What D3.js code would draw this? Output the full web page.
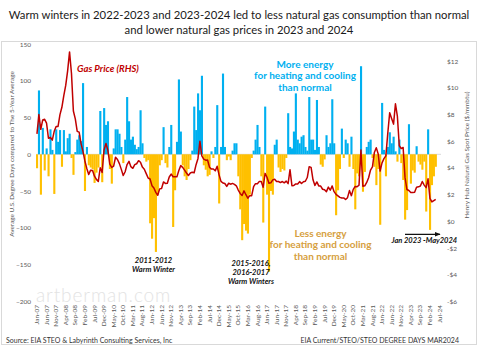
<!DOCTYPE html>
<html>
<head>
<meta charset="utf-8">
<script src="https://cdn.jsdelivr.net/npm/d3@7"></script>
<style>
body { margin: 0; background: #fff; }
svg { display: block; font-family: Lato, "Open Sans", sans-serif; }
</style>
</head>
<body>
<svg id="chart"></svg>
<script>
// Monthly categories: Jan-07 .. Jul-24 (data runs to May-24)
var firstMonth = new Date(2007, 0, 1);
var axisEndMonth = new Date(2024, 7, 1);

// HDD+CDD deviation from the 5-year average (degree days), one row per year
var degreeDays = [
    -19, 87, -55, 36, -22, 8, -30, 34, 6, -54, 34, 17,          // 2007
    33, -17, 33, 4, 22, 28, -5, -28, 3, 20, 26, 18,             // 2008
    97, -50, 10, -15, -18, -20, -39, -25, -18, 59, -38, 63,     // 2009
    40, 45, -20, -40, 8, 34, 34, 28, 10, -12, 20, 78,           // 2010
    45, 20, 24, 13, 7, 10, 60, 15, -5, -10, -8, -94,            // 2011
    -115, -87, -133, -55, -15, -8, 37, -12, -18, 10, 40, -99,   // 2012
    -49, 17, 102, 31, -15, -30, -35, -20, -8, 5, 65, 33,        // 2013
    83, 60, 107, -15, -21, -30, -28, 4, -5, 10, 67, -67,        // 2014
    10, 110, 10, -8, -3, -8, 5, 15, 15, -30, -75, -117,         // 2015
    -95, -104, -108, -55, -5, 5, 20, 40, 10, -30, -93, 65,      // 2016
    -55, -160, -50, -55, 13, 20, -18, -24, -20, -22, -5, 56,    // 2017
    10, 8, 31, 83, 20, 15, 24, 26, 10, 5, 78, 20,               // 2018
    20, 6, 74, 10, -14, -17, -7, 26, 10, 15, 75, 15,            // 2019
    -83, -49, -20, 35, -5, 20, 15, -17, 24, -20, -75, -26,      // 2020
    -30, 120, -51, -24, 10, 17, 20, -5, -17, -42, -20, -96,     // 2021
    70, 6, -30, 10, 30, 15, 24, 4, -10, 20, -12, -35,           // 2022
    -89, -76, 41, -40, -22, -25, 11, -10, -14, -21, -10, -78,   // 2023
    34, -103, -42, -30, -17                                     // 2024
];

// Henry Hub spot price, $/mmbtu
var gasPrice = [
    6.55, 8.00, 6.89, 7.59, 7.64, 7.35, 6.22, 6.29, 6.08, 6.74, 7.10, 7.11,   // 2007
    7.99, 8.54, 9.41, 10.18, 11.27, 12.69, 11.09, 8.26, 7.67, 6.74, 6.68, 5.82, // 2008
    5.24, 4.52, 3.96, 3.50, 3.83, 3.80, 3.38, 3.14, 2.99, 4.01, 3.66, 5.35,   // 2009
    5.83, 5.32, 4.29, 4.03, 4.14, 4.80, 4.63, 4.32, 3.89, 3.43, 3.71, 4.25,   // 2010
    4.49, 4.09, 3.97, 4.24, 4.31, 4.54, 4.42, 4.06, 3.90, 3.57, 3.24, 3.17,   // 2011
    2.67, 2.50, 2.17, 1.95, 2.43, 2.46, 2.95, 2.84, 2.85, 3.32, 3.54, 3.34,   // 2012
    3.33, 3.33, 3.81, 4.17, 4.04, 3.83, 3.62, 3.43, 3.62, 3.68, 3.64, 4.24,   // 2013
    4.71, 6.00, 4.90, 4.66, 4.58, 4.59, 4.05, 3.91, 3.92, 3.78, 4.12, 3.48,   // 2014
    2.99, 2.87, 2.83, 2.61, 2.85, 2.78, 2.84, 2.77, 2.66, 2.34, 2.09, 1.93,   // 2015
    2.28, 1.99, 1.73, 1.92, 1.92, 2.59, 2.82, 2.82, 2.99, 2.98, 2.55, 3.59,   // 2016
    3.30, 2.85, 2.88, 3.10, 3.15, 2.98, 2.98, 2.90, 2.98, 2.88, 3.01, 2.82,   // 2017
    3.87, 2.67, 2.69, 2.80, 2.80, 2.97, 2.83, 2.96, 3.00, 3.28, 4.09, 4.04,   // 2018
    3.11, 2.69, 2.95, 2.65, 2.64, 2.40, 2.37, 2.22, 2.56, 2.33, 2.65, 2.22,   // 2019
    2.02, 1.91, 1.79, 1.74, 1.75, 1.63, 1.77, 2.30, 1.92, 2.39, 2.61, 2.59,   // 2020
    2.71, 5.35, 2.62, 2.66, 2.91, 3.26, 3.84, 4.07, 5.16, 5.51, 5.05, 3.76,   // 2021
    4.38, 4.69, 4.90, 6.60, 8.14, 7.70, 7.28, 8.80, 7.88, 5.66, 5.45, 5.53,   // 2022
    3.27, 2.38, 2.31, 2.16, 2.15, 2.18, 2.55, 2.58, 2.64, 2.98, 2.71, 2.52,   // 2023
    3.18, 1.72, 1.45, 1.55, 1.65                                              // 2024
];

var tickLabels = ["Jan-07", "Jun-07", "Nov-07", "Apr-08", "Sep-08", "Feb-09", "Jul-09", "Dec-09",
    "May-10", "Oct-10", "Mar-11", "Aug-11", "Jan-12", "Jun-12", "Nov-12", "Apr-13", "Sep-13",
    "Feb-14", "Jul-14", "Dec-14", "May-15", "Oct-15", "Mar-16", "Aug-16", "Jan-17", "Jun-17",
    "Nov-17", "Apr-18", "Sep-18", "Feb-19", "Jul-19", "Dec-19", "May-20", "Oct-20", "Mar-21",
    "Aug-21", "Jan-22", "Jun-22", "Nov-22", "Apr-23", "Sep-23", "Feb-24", "Jul-24"];

var leftTicks = [150, 100, 50, 0, -50, -100, -150, -200];
var rightTicks = [12, 10, 8, 6, 4, 2, 0, -2, -4, -6];

var width = 478, height = 346;
var blue = "#00b0f0", gold = "#ffc000", red = "#c00000", tickColor = "#595959";

var svg = d3.select("#chart").attr("width", width).attr("height", height);

var fmt = d3.timeFormat("%b-%y");
var months = d3.timeMonth.range(firstMonth, axisEndMonth).map(fmt);

var x = d3.scaleBand().domain(months).range([36, 440.5]).padding(0);
var yLeft = d3.scaleLinear().domain([-200, 150]).range([301.1, 44.2]);
var yRight = d3.scaleLinear().domain([-6, 12]).range([301.4, 61.1]);
var half = x.bandwidth() / 2;

// frame
svg.append("rect")
    .attr("x", 1.5).attr("y", 41.5).attr("width", 475).attr("height", 303)
    .attr("fill", "none").attr("stroke", "#d9d9d9");

// title
var title = ["Warm winters in 2022-2023 and 2023-2024 led to less natural gas consumption than normal",
             "and lower natural gas prices in 2023 and 2024"];
svg.selectAll(".title").data(title).enter().append("text")
    .attr("x", 239).attr("y", function(d, i) { return 18.5 + i * 15.5; })
    .attr("text-anchor", "middle")
    .style("font-size", "11.3px").style("fill", "#1a1a1a")
    .text(function(d) { return d; });

// watermark
svg.append("text")
    .attr("x", 36).attr("y", 302)
    .style("font-size", "19px").style("font-weight", 300).style("letter-spacing", "0.9px")
    .style("fill", "#e3e3e3")
    .text("artberman.com");

// zero line
svg.append("line")
    .attr("x1", 36).attr("x2", 441)
    .attr("y1", yLeft(0)).attr("y2", yLeft(0))
    .style("stroke", "#d9d9d9");

// bars
svg.append("g").selectAll("rect").data(degreeDays).enter().append("rect")
    .attr("x", function(d, i) { return x(months[i]); })
    .attr("width", x.bandwidth() + 0.2)
    .attr("y", function(d) { return d >= 0 ? yLeft(d) : yLeft(0); })
    .attr("height", function(d) { return Math.abs(yLeft(d) - yLeft(0)); })
    .attr("fill", function(d) { return d >= 0 ? blue : gold; });

// price line
var line = d3.line()
    .x(function(d, i) { return x(months[i]) + half; })
    .y(function(d) { return yRight(d); });

svg.append("path")
    .datum(gasPrice)
    .attr("d", line)
    .attr("fill", "none")
    .attr("stroke", red)
    .attr("stroke-width", 1.5)
    .attr("stroke-linejoin", "round");

// axes
var leftAxis = svg.append("g")
    .attr("transform", "translate(33,0)")
    .call(d3.axisLeft(yLeft).tickValues(leftTicks).tickSize(0).tickPadding(2));

var rightAxis = svg.append("g")
    .attr("transform", "translate(446,0)")
    .call(d3.axisRight(yRight).tickValues(rightTicks).tickSize(0).tickPadding(1)
        .tickFormat(function(d) { return d < 0 ? "-$" + (-d) : "$" + d; }));

var bottomAxis = svg.append("g")
    .attr("transform", "translate(0,303)")
    .call(d3.axisBottom(x).tickValues(tickLabels).tickSize(0));

bottomAxis.selectAll("text")
    .attr("transform", "rotate(-90)")
    .attr("x", -2).attr("y", 0).attr("dy", "0.32em")
    .style("text-anchor", "end");

[leftAxis, rightAxis, bottomAxis].forEach(function(a)
{
    a.select(".domain").remove();
    a.selectAll("text")
        .style("font-family", "Lato, sans-serif")
        .style("font-size", "6.5px")
        .style("fill", tickColor);
});

// axis titles
svg.append("text")
    .attr("transform", "translate(14,154) rotate(-90)")
    .attr("text-anchor", "middle")
    .style("font-size", "6.4px").style("fill", tickColor)
    .text("Average U.S. Degree Days compared to The 5-Year Average");

svg.append("text")
    .attr("transform", "translate(469,155) rotate(-90)")
    .attr("text-anchor", "middle")
    .style("font-size", "6.4px").style("fill", tickColor)
    .text("Henry Hub Natural Gas Spot Price ($/mmbtu)");

// annotations
function block(lines, cx, y0, step, size, color, italic)
{
    svg.selectAll(null).data(lines).enter().append("text")
        .attr("x", cx)
        .attr("y", function(d, i) { return y0 + i * step; })
        .attr("text-anchor", "middle")
        .style("font-size", size + "px")
        .style("font-weight", "bold")
        .style("font-style", italic ? "italic" : "normal")
        .style("fill", color)
        .text(function(d) { return d; });
}

block(["Gas Price (RHS)"], 108, 72.3, 0, 9.5, red, true);
block(["More energy", "for heating and cooling", "than normal"], 305, 67.5, 11.6, 10, blue, false);
block(["Less energy", "for heating and cooling", "than normal"], 320.5, 236.5, 11.7, 10, "#d6a040", false);
block(["2011-2012", "Warm Winter"], 153.5, 262.5, 9, 7.5, "#111", true);
block(["2015-2016,", "2016-2017", "Warm Winters"], 251, 266, 9, 7.5, "#111", true);
block(["Jan 2023 -May2024"], 424.3, 243.3, 0, 7.5, "#111", true);

// arrow
svg.append("defs").append("marker")
    .attr("id", "arrow")
    .attr("viewBox", "0 0 10 10")
    .attr("refX", 9).attr("refY", 5)
    .attr("markerWidth", 5).attr("markerHeight", 5)
    .attr("orient", "auto")
    .append("path").attr("d", "M0,1 L10,5 L0,9 z").attr("fill", "#111");

svg.append("line")
    .attr("x1", 405).attr("x2", 440)
    .attr("y1", 234.3).attr("y2", 234.3)
    .style("stroke", "#111").style("stroke-width", 1.2)
    .attr("marker-end", "url(#arrow)");

// footer
svg.append("text")
    .attr("x", 6).attr("y", 342.5)
    .style("font-size", "7px").style("fill", "#333")
    .text("Source: EIA STEO & Labyrinth Consulting Services, Inc");

svg.append("text")
    .attr("x", 459).attr("y", 342.5)
    .attr("text-anchor", "end")
    .style("font-size", "7px").style("fill", "#333")
    .text("EIA Current/STEO/STEO DEGREE DAYS MAR2024");
</script>
</body>
</html>
